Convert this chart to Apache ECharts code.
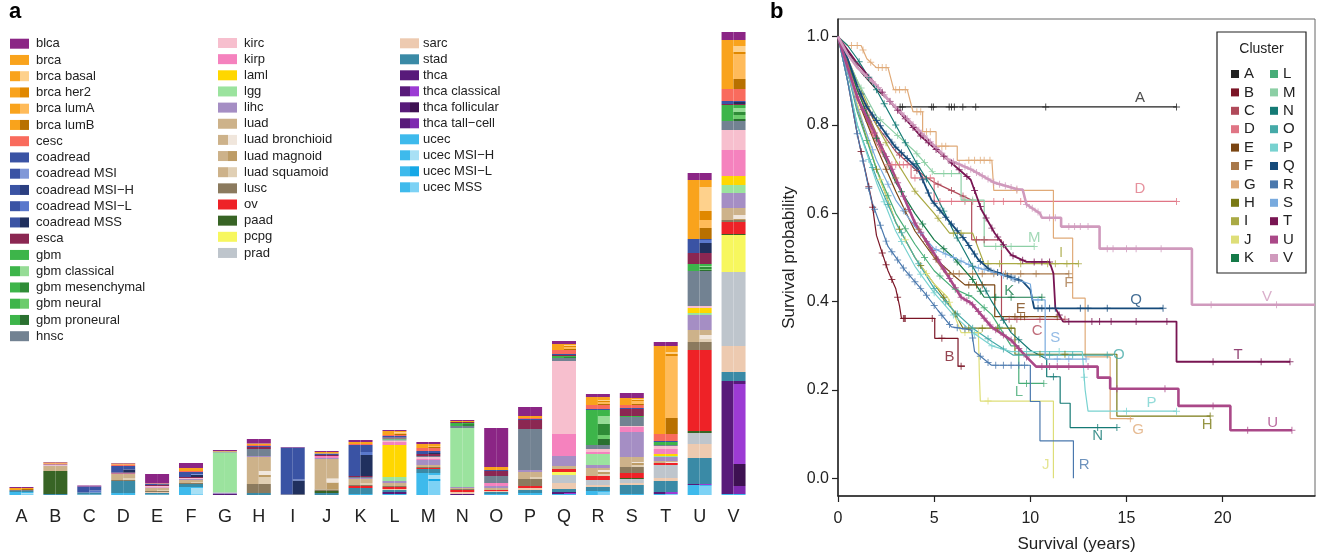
<!DOCTYPE html>
<html>
<head>
<meta charset="utf-8">
<script src="https://cdn.jsdelivr.net/npm/echarts@6.0.0/dist/echarts.min.js"></script>
<style>
html,body{margin:0;padding:0;background:#fff;}
#main{width:1320px;height:553px;}
</style>
</head>
<body>
<div id="main"></div>
<script>
var clusters = ['A','B','C','D','E','F','G','H','I','J','K','L','M','N','O','P','Q','R','S','T','U','V'];

// panel a: samples per cluster for each tumour type (A..V)
var ucec     = [3,0,0.5,2,0.5,8,0,0,0,0,1,1,22,0,1,2,1,4,1,1,10,1];
var thca     = [0,0,0,0,0,0,1,0,0,0,0,2,0,1,0,0,2,0,0,2,1,113];
var stad     = [1,1,2,12,1.5,3,0,2,0,2,6,2,4,0,2,3,3,4,9,11,26,9];
var sarc     = [0,0,0,0,1,0,0,0,0,0,0,1,0,2,1,2,6,2,2,3,14,26];
var prad     = [0,0,0,0,0,0,0,0,0,0,0,0,0,0,0,0,8,5,4,13,11,74];
var pcpg     = [0,0,0,0,0,0,0,0,0,0,0,0,0,0,0,0,3,0,0,0,0,37];
var paad     = [0,23,0,0,0,0,0,0,0,2,0,0,0,0,0,0,0,0,1,0,2,1];
var ov       = [0,0,0,0,0,0,0,0,0,0,2,2,1,2,1,2,3,4,5,2,81,12];
var lusc     = [0,0,0,1,1,1,0,9,0.5,1.5,1,1,1,1,0,7,0,0,6,0,8,2];
var luad     = [0,5,0,6,3,3,0,27,0,30.5,6,3,2,1,2,7,3,8,10,2,12,12];
var lihc     = [0,0.5,0,0,0.5,1,1.5,1,0,1,1,2,5,1,2,2,10,3,25,4,15,15];
var lgg      = [0,0,0,0,0,0,40,0,0,0,0,4,0,59,0,0,0,11,0,1,2,8];
var laml     = [0,0,0,0,0,0,0,0,0,0,0,32,0,0,0,0,0,0,0,2,5,9];
var kirp     = [0,0,0,0.5,0.5,0,0,0,0,2,0,3,1,0,3,0,22,2,5,5,0,26];
var kirc     = [0,1,0,0,1,1,0,0,0,0,0,1.5,2,0,0,0,73,3,1,3,2,20];
var hnsc     = [1,0,0,0,0,0,1,7,0,0,1,1,1,2,7,41,3,4,9,1,35,9];
var gbm      = [0,0,0,0,0,0,0,0,0,0,0,1,0,3,0,0,2,35,1,3,7,16];
var esca     = [0,0.5,0,1,1,1,0,2,0,1,1,1,2,1,5,9,1,0,7,0,11,1];
var coadread = [0,0,6,6.5,1.5,5,0,1,47,1.5,31,1.5,3,0,1,1,1,1,1,1,14,3];
var cesc     = [0,0.5,0,1.5,0.5,1,0,1,0,0,1,1,3,0,0,1,4,4,3,7,0,12];
var brca     = [2,1,0,1,0,3,0.5,1.5,0,1.5,2,4,4,1,3,2,6,8,7,88,59,49];
var blca     = [1,0.5,1,0.5,9,5,1,4.5,0.5,1,2,1,2,1,39,9,3,3,5,4,7,8];

// subtypes (right half of each bar)
var brcaBasal      = [0,0,0,0,0,0,0,0,0,0,0,1,0,0,0,0,1,1,1,2,24,6];
var brcaHer2       = [0,0,0,0,0,0,0,0,0,0,0,0,0,0,0,0,1,1,1,2,9,2];
var brcaLumA       = [0,0,0,0,0,0,0,0,0,0,0,1,1,0,0,0,2,2,3,62,8,25];
var brcaLumB       = [1,0,0,0,0,0,0,0,0,0,0,1,1,0,0,0,1,1,1,16,11,10];
var coadreadMSI    = [0,0,0,0,0,1,0,0,0,0,0,0,0,0,0,0,0,0,0,0,0,0];
var coadreadMSIH   = [0,0,0,0,0.5,0,0,0,0,0,0,0,0,0,0,0,0,0,0,0,0,0];
var coadreadMSIL   = [0,0,2,0,0,0,0,0,1,0,3,0,0,0,0,0,0,0,0,0,3,0];
var coadreadMSS    = [0,0,0,3,0.5,2,0,0,14,0,21,0,1,0,0,0,0,0,0,0,10,2];
var gbmClassical   = [0,0,0,0,0,0,0,0,0,0,0,0,0,0,0,0,0,8,0,0,1,4];
var gbmMesenchymal = [0,0,0,0,0,0,0,0,0,0,0,0,0,2,0,0,1,11,0,0,2,3];
var gbmNeural      = [0,0,0,0,0,0,0,0,0,0,0,0,0,0,0,0,0,4,0,0,1,4];
var gbmProneural   = [0,0,0,0,0,0,0,0,0,0,0,0,0,0,0,0,0,6,0,0,1,2];
var luadBronchioid = [0,0,0,0,0,0,0,4,0,4,0,0,0,0,0,0,0,2,1,1,4,4];
var luadMagnoid    = [0,0,0,0,0,0,0,2,0,7,0,0,0,0,0,0,0,2,2,0,0,1];
var luadSquamoid   = [0,0,0,2,1,1,0,7,0,0,2,0,0,0,0,2,0,2,2,0,3,0];
var thcaClassical  = [0,0,0,0,0,0,0,0,0,0,0,0,0,0,0,0,1,0,0,2,1,80];
var thcaFollicular = [0,0,0,0,0,0,0,0,0,0,0,0,0,0,0,0,0,0,0,0,0,22];
var thcaTallCell   = [0,0,0,0,0,0,0,0,0,0,0,0,0,0,0,0,0,0,0,0,0,8];
var ucecMSIH       = [1,0,0,0,0,6,0,0,0,0,0,0,4,0,0,0,0,0,0,0,0,0];
var ucecMSIL       = [0,0,0,0,0,0,0,0,0,0,0,0,2,0,0,0,0,0,0,0,0,0];
var ucecMSS        = [1,0,0,0,0,1,0,0,0,0,0,0,14,0,0,0,0,3,0,1,9,0];

var typeColor = {blca:'#8b2585',brca:'#f9a31c',cesc:'#f96b5d',coadread:'#3a53a4',esca:'#8b2752',
  gbm:'#3db54a',hnsc:'#728292',kirc:'#f7bfce',kirp:'#f582be',laml:'#ffd700',lgg:'#9be39e',
  lihc:'#a58ec4',luad:'#cdb28a',lusc:'#8b7a5e',ov:'#ee2227',paad:'#386425',pcpg:'#f7f75e',
  prad:'#bec5cc',sarc:'#edcab0',stad:'#3a8aa6',thca:'#581a7a',ucec:'#3ebaec'};
var subColor = {'brca basal':'#fed18c','brca her2':'#e08800','brca lumA':'#ffbb5a','brca lumB':'#b87000',
  'coadread MSI':'#8098d8','coadread MSI−H':'#2b3f80','coadread MSI−L':'#5a78cc','coadread MSS':'#20305e',
  'gbm classical':'#96dc96','gbm mesenchymal':'#2f8c37','gbm neural':'#6ccc6c','gbm proneural':'#2a7030',
  'luad bronchioid':'#f0e6dc','luad magnoid':'#bd9c66','luad squamoid':'#e0cfb4',
  'thca classical':'#9c3bd4','thca follicular':'#3e1152','thca tall−cell':'#7e2ab0',
  'ucec MSI−H':'#a8e0f5','ucec MSI−L':'#16a8e6','ucec MSS':'#7dd2f5'};

// stacking order, bottom to top; subtypes bottom to top inside their tumour
var tumours = [
  ['ucec', ucec, [['ucec MSS',ucecMSS],['ucec MSI−L',ucecMSIL],['ucec MSI−H',ucecMSIH]]],
  ['thca', thca, [['thca tall−cell',thcaTallCell],['thca follicular',thcaFollicular],['thca classical',thcaClassical]]],
  ['stad', stad, []], ['sarc', sarc, []], ['prad', prad, []], ['pcpg', pcpg, []],
  ['paad', paad, []], ['ov', ov, []], ['lusc', lusc, []],
  ['luad', luad, [['luad squamoid',luadSquamoid],['luad magnoid',luadMagnoid],['luad bronchioid',luadBronchioid]]],
  ['lihc', lihc, []], ['lgg', lgg, []], ['laml', laml, []], ['kirp', kirp, []], ['kirc', kirc, []], ['hnsc', hnsc, []],
  ['gbm', gbm, [['gbm proneural',gbmProneural],['gbm neural',gbmNeural],['gbm mesenchymal',gbmMesenchymal],['gbm classical',gbmClassical]]],
  ['esca', esca, []],
  ['coadread', coadread, [['coadread MSS',coadreadMSS],['coadread MSI−L',coadreadMSIL],['coadread MSI−H',coadreadMSIH],['coadread MSI',coadreadMSI]]],
  ['cesc', cesc, []],
  ['brca', brca, [['brca lumB',brcaLumB],['brca lumA',brcaLumA],['brca her2',brcaHer2],['brca basal',brcaBasal]]],
  ['blca', blca, []]
];

var legendA = [
  ['blca','brca','brca basal','brca her2','brca lumA','brca lumB','cesc','coadread','coadread MSI','coadread MSI−H','coadread MSI−L','coadread MSS','esca','gbm','gbm classical','gbm mesenchymal','gbm neural','gbm proneural','hnsc'],
  ['kirc','kirp','laml','lgg','lihc','luad','luad bronchioid','luad magnoid','luad squamoid','lusc','ov','paad','pcpg','prad'],
  ['sarc','stad','thca','thca classical','thca follicular','thca tall−cell','ucec','ucec MSI−H','ucec MSI−L','ucec MSS']
];

// panel b: Kaplan-Meier curves, vertices [years, survival]
var km = {
  A: [[0,1],[0.6,0.96],[1.2,0.92],[2,0.88],[2.8,0.85],[2.9,0.841],[17.6,0.841]],
  B: [[0,1],[0.5,0.9],[1,0.78],[1.5,0.68],[1.75,0.63],[2,0.55],[2.6,0.47],[3,0.43],[3.2,0.39],[3.3,0.362],[5.03,0.362],[5.03,0.317],[6.24,0.317],[6.24,0.254],[6.6,0.254]],
  C: [[0,1],[0.5,0.94],[1,0.88],[2,0.8],[3,0.74],[4,0.7],[5,0.67],[6.95,0.63],[6.95,0.54],[8.5,0.54],[8.5,0.36],[11.8,0.36]],
  D: [[0,1],[0.5,0.93],[1,0.87],[1.5,0.81],[2,0.76],[2.6,0.71],[3.8,0.71],[3.8,0.68],[5,0.68],[5,0.627],[17.6,0.627]],
  E: [[0,1],[0.5,0.93],[1,0.86],[2,0.75],[3,0.65],[4,0.56],[5,0.5],[6,0.46],[6.6,0.438],[8.15,0.438],[8.15,0.366],[11.4,0.366]],
  F: [[0,1],[0.5,0.94],[1,0.88],[2,0.78],[3,0.68],[4,0.58],[5,0.5],[5.6,0.463],[12,0.463]],
  G: [[0,1],[0.5,0.98],[1.2,0.98],[1.5,0.95],[2,0.93],[2.6,0.93],[2.9,0.88],[3.6,0.88],[3.9,0.83],[4.4,0.83],[4.4,0.785],[5.1,0.785],[5.1,0.752],[6.2,0.752],[6.2,0.72],[8,0.72],[8.1,0.652],[11.2,0.652],[11.2,0.544],[12.2,0.544],[12.2,0.408],[12.85,0.408],[12.85,0.275],[14.15,0.275],[14.15,0.135],[15.3,0.135]],
  H: [[0,1],[0.5,0.92],[1,0.84],[2,0.7],[3,0.58],[4,0.5],[5,0.44],[6,0.38],[6.5,0.34],[9.2,0.34],[9.2,0.281],[14.5,0.281],[14.5,0.141],[19.35,0.141]],
  I: [[0,1],[0.5,0.95],[1,0.9],[2,0.8],[3,0.72],[4,0.65],[5,0.6],[5.8,0.555],[7,0.555],[7.6,0.486],[12.5,0.486]],
  J: [[0,1],[0.5,0.93],[1,0.85],[2,0.7],[3,0.58],[4,0.5],[5,0.44],[5.7,0.41],[6.4,0.33],[7.3,0.33],[7.35,0.234],[7.4,0.175],[11.2,0.175],[11.2,0]],
  K: [[0,1],[0.5,0.95],[1,0.88],[2,0.77],[3,0.67],[4,0.6],[5,0.54],[6,0.5],[7,0.45],[7.6,0.41],[10.6,0.41]],
  L: [[0,1],[0.5,0.92],[1,0.83],[2,0.7],[3,0.6],[4,0.53],[5,0.47],[6,0.43],[7,0.41],[8,0.37],[9,0.3],[9.4,0.3],[9.4,0.215],[10.7,0.215]],
  M: [[0,1],[0.5,0.95],[1,0.9],[2,0.82],[3,0.78],[4,0.74],[5,0.69],[6.4,0.69],[6.4,0.63],[7.6,0.63],[7.6,0.525],[10.2,0.525]],
  N: [[0,1],[0.5,0.98],[1,0.95],[2,0.88],[3,0.8],[4,0.72],[5,0.65],[6,0.56],[7,0.48],[8,0.4],[9,0.33],[10,0.29],[10.85,0.27],[10.85,0.23],[11.55,0.23],[11.55,0.17],[12.07,0.17],[12.07,0.115],[14.5,0.115]],
  O: [[0,1],[0.5,0.9],[1,0.8],[2,0.68],[3,0.58],[4,0.5],[5,0.43],[6,0.38],[7,0.34],[8,0.31],[9.1,0.279],[14.3,0.279]],
  P: [[0,1],[0.5,0.9],[1,0.8],[2,0.67],[3,0.56],[4,0.48],[5,0.42],[6,0.37],[7,0.33],[8,0.3],[9,0.287],[12.7,0.287],[12.85,0.2],[13,0.152],[17.6,0.152]],
  Q: [[0,1],[0.5,0.95],[1,0.89],[1.47,0.843],[2.95,0.752],[4.16,0.7],[4.86,0.63],[5.72,0.585],[6.6,0.54],[7.3,0.495],[7.9,0.472],[9.6,0.446],[10,0.427],[10.2,0.385],[16.9,0.385]],
  R: [[0,1],[0.5,0.9],[1,0.78],[1.73,0.63],[2.6,0.525],[3.47,0.472],[4.5,0.42],[5.2,0.38],[5.9,0.343],[6.94,0.336],[7.1,0.287],[7.98,0.256],[10,0.256],[10,0.174],[10.5,0.174],[10.5,0.085],[12.24,0.085],[12.24,0]],
  S: [[0,1],[0.5,0.92],[1,0.84],[2,0.72],[3,0.63],[4,0.57],[5,0.52],[6,0.5],[7,0.48],[8,0.468],[10,0.44],[10.1,0.404],[10.77,0.404],[10.77,0.27],[12.9,0.27]],
  T: [[0,1],[0.5,0.97],[1,0.94],[2,0.89],[2.6,0.858],[4.3,0.775],[5.9,0.714],[6.9,0.676],[7.46,0.608],[8.15,0.555],[9,0.506],[9.8,0.49],[11,0.49],[11.2,0.464],[11.3,0.385],[11.7,0.355],[17.6,0.355],[17.6,0.264],[23.5,0.264]],
  U: [[0,1],[0.5,0.93],[1.04,0.858],[2.6,0.72],[4,0.578],[5.2,0.495],[6.4,0.41],[6.94,0.396],[7.98,0.343],[9,0.313],[9.8,0.275],[10.3,0.253],[13.5,0.253],[13.5,0.228],[14.15,0.228],[14.15,0.203],[17.7,0.203],[17.7,0.164],[20.4,0.164],[20.4,0.109],[23.6,0.109]],
  V: [[0,1],[0.5,0.96],[1,0.93],[2,0.89],[2.6,0.858],[4.34,0.782],[5.72,0.722],[6.94,0.699],[8.15,0.669],[9.37,0.654],[9.6,0.654],[9.8,0.62],[10.5,0.6],[10.6,0.59],[11.6,0.59],[11.6,0.57],[13.6,0.57],[13.6,0.52],[18.4,0.52],[18.4,0.393],[24.8,0.393]]
};

// censoring times (years)
var censor = {
  A: [3.23,3.35,4.87,4.96,5.78,5.9,6.05,6.49,7.16,10.8,17.6],
  B: [1.2,1.6,1.8,2.3,2.5,2.8,3.1,3.4,3.45,3.5,4.9,5.4,6.4],
  C: [3.2,4.1,5.2,5.9,6.5,7.2,7.6,8.9,9.3,10.5,11.8],
  D: [1.8,2.2,2.6,2.8,3.0,3.2,3.4,3.6,4.0,4.4,4.8,5.3,5.9,6.6,7.0,8.1,8.6,9.5,17.6],
  E: [2.5,3.5,5.1,6.8,7.2,7.5,9.2,9.5,9.7,11.4],
  F: [3.0,4.2,5.8,6.0,6.3,7.0,7.5,8.1,8.7,9.5,10.3,12.0],
  G: [0.7,1.0,1.3,1.7,2.1,2.3,2.5,3.0,3.2,3.5,4.1,4.3,4.6,4.8,5.4,5.6,6.8,7.1,7.4,7.6,7.9,9.3,15.2],
  H: [2.0,3.2,4.3,5.5,6.1,6.8,7.5,8.3,9.0,10.5,11.8,19.35],
  I: [2.5,4.0,5.2,6.0,6.4,7.8,8.4,9.5,10.9,11.3,11.9,12.5],
  J: [2.2,3.5,4.6,5.8,6.6,7.3,7.8],
  K: [2.0,3.3,4.4,5.5,6.2,7.0,7.4,8.2,9.0,10.6],
  L: [1.5,2.6,3.5,4.5,5.3,6.1,6.8,7.6,8.4,9.8,10.7],
  M: [1.2,2.2,3.1,4.1,4.5,4.9,5.5,5.9,6.6,7.0,8.2,8.5,9.0,10.2],
  N: [1.1,1.6,2.0,2.4,3.0,3.5,4.1,4.6,5.5,6.2,7.0,7.7,8.6,9.4,11.2,13.5,14.5],
  O: [1.8,2.6,3.3,4.2,5.0,5.6,6.2,7.0,7.8,8.6,9.8,11.0,12.2,14.0],
  P: [1.6,2.4,3.3,4.3,5.0,6.0,7.1,8.0,9.8,11.5,12.8,15.0,17.6],
  Q: [1.2,1.5,1.8,2.0,2.2,2.5,2.8,3.0,3.3,3.6,3.9,4.1,4.4,4.7,5.0,5.3,5.6,5.9,6.2,6.5,6.8,7.1,7.4,7.8,8.3,8.8,9.0,9.2,9.4,10.4,10.6,11.0,11.3,12.6,13.0,14.0,16.9],
  R: [1.0,1.3,1.6,1.9,2.2,2.5,2.8,3.1,3.4,3.7,4.0,4.3,4.6,5.0,5.4,5.8,6.2,6.6,7.0,7.4,7.8,8.2,8.6,9.0,9.4,9.7],
  S: [1.8,2.6,3.4,4.3,5.1,5.6,6.0,6.4,6.8,7.3,7.6,8.1,8.6,9.1,10.4,11.4,12.0,12.9],
  T: [2.3,2.7,3.1,3.5,3.9,4.3,4.7,5.1,5.5,5.9,6.3,6.7,7.1,7.4,7.7,8.0,8.3,8.6,9.1,9.6,10.2,10.6,11.0,11.5,12.0,13.2,13.6,14.2,15.5,17.1,19.5,22.0,23.5],
  U: [1.0,1.3,1.6,1.9,2.2,2.5,2.8,3.1,3.4,3.7,4.0,4.3,4.6,4.9,5.2,5.5,5.8,6.1,6.4,6.7,7.0,7.3,7.6,7.9,8.2,8.6,9.0,9.4,9.8,10.6,11.0,11.4,12.0,13.0,14.5,17.0,19.5,21.3,23.6],
  V: [1.5,1.8,2.1,2.4,2.7,3.0,3.3,3.6,3.9,4.2,4.5,4.8,5.1,5.4,5.7,6.0,6.3,6.6,6.9,7.2,7.5,7.8,8.1,8.4,8.7,9.0,9.3,9.8,10.1,10.4,11.0,11.3,12.0,12.3,12.6,13.0,14.0,14.3,15.0,15.5,16.8,19.4,22.8]
};

var clusterColor = {A:'#222222',B:'#7b1526',C:'#b04a5a',D:'#e07585',E:'#7a4512',F:'#a8784a',G:'#e0aa78',
  H:'#7a7a15',I:'#aaaa45',J:'#dede78',K:'#157a48',L:'#48ad78',M:'#8ccfa5',N:'#157a75',O:'#45aaa8',
  P:'#78d2d0',Q:'#154a7a',R:'#4a78ad',S:'#78aade',T:'#781552',U:'#aa4888',V:'#d09abd'};

// where the cluster letters sit next to the curves
var letterPos = {A:[15.7,0.862],B:[5.8,0.275],C:[10.35,0.335],D:[15.7,0.655],E:[9.5,0.383],F:[12,0.442],
  G:[15.6,0.11],H:[19.2,0.122],I:[11.6,0.51],J:[10.8,0.03],K:[8.9,0.425],L:[9.4,0.195],M:[10.2,0.545],
  N:[13.5,0.097],O:[14.6,0.28],P:[16.3,0.172],Q:[15.5,0.405],R:[12.8,0.03],S:[11.3,0.318],T:[20.8,0.28],
  U:[22.6,0.125],V:[22.3,0.41]};

var FONT = 'Liberation Sans, Arial, Helvetica, sans-serif';
var plusPath = 'path://M4.3,0h1.4v4.3h4.3v1.4h-4.3v4.3h-1.4v-4.3h-4.3v-1.4h4.3z';

function survAt(pts, t) {
    for (var i = 0; i < pts.length - 1; i++) {
        var a = pts[i], b = pts[i+1];
        if (t >= a[0] && t <= b[0] && b[0] > a[0]) {
            return a[1] + (b[1] - a[1]) * (t - a[0]) / (b[0] - a[0]);
        }
    }
    return pts[pts.length-1][1];
}

var series = [];

// stacked bars: left half = tumour, right half = subtype
for (var k = 0; k < tumours.length; k++) {
    var tname = tumours[k][0], tvals = tumours[k][1], subs = tumours[k][2];
    var col = typeColor[tname];
    series.push({type:'bar', name:tname, stack:'L', xAxisIndex:0, yAxisIndex:0, barWidth:12, barGap:'0%',
        data:tvals, itemStyle:{color:col}, silent:true});
    if (subs.length == 0) {
        series.push({type:'bar', name:tname + ' r', stack:'R', xAxisIndex:0, yAxisIndex:0, barWidth:12, barGap:'0%',
            data:tvals, itemStyle:{color:col}, silent:true});
    } else {
        var rest = tvals.slice();
        for (var s = 0; s < subs.length; s++) {
            var sv = subs[s][1];
            for (var c = 0; c < rest.length; c++) rest[c] = rest[c] - sv[c];
            series.push({type:'bar', name:subs[s][0], stack:'R', xAxisIndex:0, yAxisIndex:0, barWidth:12, barGap:'0%',
                data:sv, itemStyle:{color:subColor[subs[s][0]]}, silent:true});
        }
        series.push({type:'bar', name:tname + ' na', stack:'R', xAxisIndex:0, yAxisIndex:0, barWidth:12, barGap:'0%',
            data:rest, itemStyle:{color:col}, silent:true});
    }
}

// survival curves
var letters = Object.keys(km);
for (var i = 0; i < letters.length; i++) {
    var L = letters[i];
    var w = 1.2;
    if (L == 'U' || L == 'V') w = 2.6;
    if (L == 'Q' || L == 'T') w = 1.8;
    series.push({type:'line', name:L, xAxisIndex:1, yAxisIndex:1, data:km[L], showSymbol:false, symbol:'none',
        color:clusterColor[L], lineStyle:{color:clusterColor[L], width:w}, silent:true, z:3});
    var cp = [];
    for (var j = 0; j < censor[L].length; j++) cp.push([censor[L][j], survAt(km[L], censor[L][j])]);
    series.push({type:'scatter', name:L + ' censored', xAxisIndex:1, yAxisIndex:1, data:cp, symbol:plusPath,
        symbolSize:7, itemStyle:{color:clusterColor[L]}, silent:true, z:3});
}

var lab = [];
for (var i = 0; i < letters.length; i++) {
    var L = letters[i];
    lab.push({name:L, value:letterPos[L], label:{color:clusterColor[L]}});
}
series.push({type:'scatter', name:'letters', xAxisIndex:1, yAxisIndex:1, data:lab, symbolSize:0, silent:true, z:5,
    label:{show:true, position:'inside', formatter:'{b}', fontSize:15, fontFamily:FONT}});

// legend of panel a, drawn as swatches + text
var graphics = [];
var colX = [10, 218, 400], txtOff = [26, 26, 23], rowY0 = [43.7, 43, 43.3], pitch = [16.25, 16.15, 16.0];
for (var c = 0; c < legendA.length; c++) {
    for (var r = 0; r < legendA[c].length; r++) {
        var nm = legendA[c][r];
        var y = rowY0[c] + r * pitch[c];
        if (subColor[nm]) {
            var base = typeColor[nm.split(' ')[0]];
            graphics.push({type:'rect', shape:{x:colX[c], y:y-5, width:10, height:10}, style:{fill:base}});
            graphics.push({type:'rect', shape:{x:colX[c]+10, y:y-5, width:9, height:10}, style:{fill:subColor[nm]}});
        } else {
            graphics.push({type:'rect', shape:{x:colX[c], y:y-5, width:19, height:10}, style:{fill:typeColor[nm]}});
        }
        graphics.push({type:'text', x:colX[c]+txtOff[c], y:y, style:{text:nm, fontSize:13, fontFamily:FONT, fill:'#222', verticalAlign:'middle'}});
    }
}
graphics.push({type:'text', x:9, y:1, style:{text:'a', fontSize:22, fontWeight:'bold', fontFamily:FONT, fill:'#000'}});
graphics.push({type:'text', x:770, y:1, style:{text:'b', fontSize:22, fontWeight:'bold', fontFamily:FONT, fill:'#000'}});
graphics.push({type:'rect', z:3, shape:{x:1217, y:32, width:89, height:241}, style:{fill:'#fff', stroke:'#222', lineWidth:1.2}});
graphics.push({type:'text', z:4, x:1261.5, y:49, style:{text:'Cluster', fontSize:14, fontFamily:FONT, fill:'#222', align:'center', verticalAlign:'middle'}});

var chart = echarts.init(document.getElementById('main'));
var option = {
    animation: false,
    backgroundColor: '#fff',
    textStyle: {fontFamily: FONT},
    grid: [
        {left:4.5, top:25, width:746, height:470, outerBoundsMode:'none', containLabel:false},
        {left:838, top:19, width:477, height:477, outerBoundsMode:'none', containLabel:false,
         show:true, borderColor:'#666', borderWidth:1}
    ],
    xAxis: [
        {gridIndex:0, type:'category', data:clusters, axisLine:{show:false}, axisTick:{show:false},
         axisLabel:{fontSize:18, color:'#222', margin:13}},
        {gridIndex:1, type:'value', min:0, max:24.8, interval:5, splitLine:{show:false},
         axisLine:{show:true, onZero:false, lineStyle:{color:'#222', width:1.5}},
         axisTick:{show:true, length:6, customValues:[0,5,10,15,20], lineStyle:{color:'#222', width:1.2}},
         axisLabel:{fontSize:16, color:'#222', margin:15, customValues:[0,5,10,15,20]},
         name:'Survival (years)', nameLocation:'middle', nameGap:40, nameTextStyle:{fontSize:17, color:'#222'}}
    ],
    yAxis: [
        {gridIndex:0, type:'value', min:0, max:470, show:false},
        {gridIndex:1, type:'value', min:-0.04, max:1.04, splitLine:{show:false},
         axisLine:{show:true, onZero:false, lineStyle:{color:'#222', width:1.5}},
         axisTick:{show:true, length:6, customValues:[0,0.2,0.4,0.6,0.8,1.0], lineStyle:{color:'#222', width:1.2}},
         axisLabel:{fontSize:16, color:'#222', margin:9, customValues:[0,0.2,0.4,0.6,0.8,1.0],
                    formatter:function(v){return v.toFixed(1);}},
         name:'Survival probability', nameLocation:'middle', nameGap:40, nameTextStyle:{fontSize:17, color:'#222'}}
    ],
    legend: [
        {data:['A','B','C','D','E','F','G','H','I','J','K'], orient:'vertical', left:1226, top:61, icon:'rect',
         itemWidth:8, itemHeight:8, itemGap:2.4, selectedMode:false, z:5,
         textStyle:{fontSize:15, color:'#222', lineHeight:16, fontFamily:FONT}},
        {data:['L','M','N','O','P','Q','R','S','T','U','V'], orient:'vertical', left:1265, top:61, icon:'rect',
         itemWidth:8, itemHeight:8, itemGap:2.4, selectedMode:false, z:5,
         textStyle:{fontSize:15, color:'#222', lineHeight:16, fontFamily:FONT}}
    ],
    graphic: graphics,
    series: series
};
chart.setOption(option);
</script>
</body>
</html>
